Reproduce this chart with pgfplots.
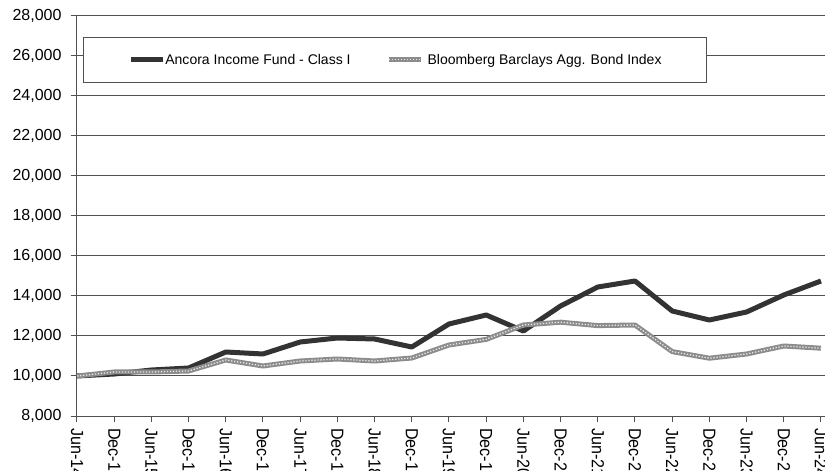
\documentclass[border=0pt]{standalone}
\usepackage{fontspec}
\setmainfont{Liberation Sans}
\newfontfamily\narrowfont[FakeStretch=0.92]{Liberation Sans}
\usepackage{pgfplots}
\pgfplotsset{compat=1.18}

\definecolor{fundcol}{HTML}{333333}
\definecolor{idxcol}{HTML}{8C8C8C}
\definecolor{gridcol}{HTML}{505050}

\begin{document}
\begin{tikzpicture}
\path[use as bounding box] (-77bp,-55bp) rectangle (748bp,416bp);
\clip (-77bp,-55bp) rectangle (748bp,416bp);
\begin{axis}[
  at={(0,0)}, anchor=south west,
  scale only axis, width=747.7bp, height=400bp,
  xmin=0, xmax=20.1, ymin=8000, ymax=28000,
  axis x line*=bottom, axis y line*=left,
  axis line style={gridcol, line width=1bp},
  xtick={0,...,20},
  xticklabels={Jun-14,Dec-14,Jun-15,Dec-15,Jun-16,Dec-16,Jun-17,Dec-17,Jun-18,Dec-18,Jun-19,Dec-19,Jun-20,Dec-20,Jun-21,Dec-21,Jun-22,Dec-22,Jun-23,Dec-23,Jun-24},
  ytick={8000,10000,...,28000},
  scaled y ticks=false,
  /pgf/number format/assume math mode=true,
  yticklabel={\pgfmathprintnumber[1000 sep={,}]{\tick}},
  ymajorgrids, major grid style={gridcol, line width=1bp},
  tick align=outside, major tick length=6bp,
  tick style={gridcol, line width=1bp},
  x tick label style={rotate=-90, anchor=west, inner sep=0bp, xshift=6bp,
    font=\narrowfont\fontsize{17.5bp}{19bp}\selectfont},
  y tick label style={xshift=-6bp, font=\fontsize{16bp}{18bp}\selectfont},
  legend columns=2,
  legend cell align=left,
  legend image code/.code={\draw[#1] (0bp,0bp) -- (32bp,0bp);},
  legend style={at={(rel axis cs:0.008,0.9475)}, anchor=north west,
    draw=gridcol, fill=white, line width=0.8bp,
    font=\fontsize{14bp}{16bp}\selectfont,
    inner xsep=45bp, inner ysep=16.5bp,
    nodes={inner sep=0bp},
    /tikz/every even column/.append style={column sep=36bp}},
]
\addplot[fundcol, line width=5bp, line join=round] coordinates {
 (0,10000) (1,10100) (2,10300) (3,10400) (4,11200) (5,11100) (6,11700)
 (7,11900) (8,11850) (9,11450) (10,12600) (11,13050) (12,12250) (13,13500)
 (14,14450) (15,14750) (16,13250) (17,12800) (18,13200) (19,14050) (20,14750)};
\addlegendentry{Ancora Income Fund - Class I}
\addplot[idxcol, line width=5bp, line join=round,
  postaction={draw=white!80!idxcol, line width=1.3bp, dash pattern=on 1.3bp off 1.7bp}] coordinates {
 (0,10000) (1,10200) (2,10200) (3,10250) (4,10800) (5,10500) (6,10750)
 (7,10850) (8,10750) (9,10900) (10,11550) (11,11830) (12,12550) (13,12690)
 (14,12520) (15,12550) (16,11220) (17,10890) (18,11100) (19,11500) (20,11390)};
\addlegendentry{\hspace{4bp}Bloomberg Barclays Agg. Bond Index}
\end{axis}
\end{tikzpicture}
\end{document}
